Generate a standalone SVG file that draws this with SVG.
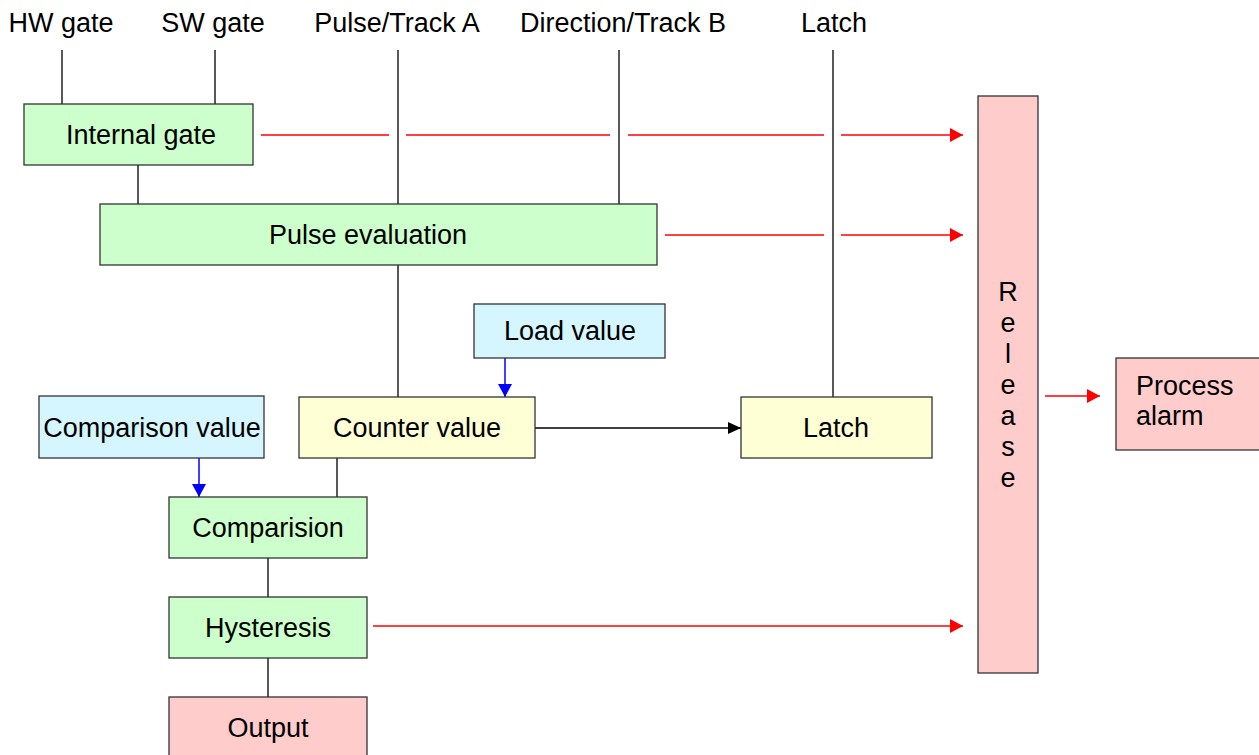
<svg xmlns="http://www.w3.org/2000/svg" width="1259" height="755" viewBox="0 0 1259 755">
<defs>
<style>
text{font-family:"Liberation Sans",Arial,sans-serif;font-size:27px;fill:#000}
.c{text-anchor:middle}
.box{stroke:#333;stroke-width:1.3}
.g{fill:#ccffcc}.b{fill:#d5f5ff}.y{fill:#ffffd5}.p{fill:#ffcccc}
.ln{stroke:#000;stroke-width:1.3;fill:none}
.red{stroke:#ff0000;stroke-width:1.5;fill:none}
.blue{stroke:#0000ff;stroke-width:1.5;fill:none}
</style>
<marker id="ar" markerUnits="userSpaceOnUse" markerWidth="14" markerHeight="16" refX="13" refY="7" orient="auto"><path d="M0,0 L13,7 L0,14 Z" fill="#ff0000"/></marker>
<marker id="ab" markerUnits="userSpaceOnUse" markerWidth="14" markerHeight="14" refX="13" refY="6" orient="auto"><path d="M0,0 L13,6 L0,12 Z" fill="#000"/></marker>
<marker id="au" markerUnits="userSpaceOnUse" markerWidth="14" markerHeight="16" refX="13" refY="7" orient="auto"><path d="M0,0 L13,7 L0,14 Z" fill="#0000ff"/></marker>
</defs>
<rect width="1259" height="755" fill="#fff"/>
<g id="labels">
<text class="c" x="61" y="32">HW gate</text>
<text class="c" x="213" y="32">SW gate</text>
<text class="c" x="397" y="32">Pulse/Track A</text>
<text class="c" x="623" y="32">Direction/Track B</text>
<text class="c" x="834" y="32">Latch</text>
</g>
<g id="connectors">
<path class="ln" d="M62,50V104M215,50V104M398,50V204M619,50V204M833,50V397M138,165V204M398,265V397M337,458V497M268,558V597M268,658V697"/>
<path class="red" d="M261,135H389M406,135H610M628,135H824"/>
<path class="red" d="M841,135H963" marker-end="url(#ar)"/>
<path class="red" d="M665,235H824"/>
<path class="red" d="M841,235H963" marker-end="url(#ar)"/>
<path class="red" d="M373,626H963" marker-end="url(#ar)"/>
<path class="red" d="M1045,396H1100" marker-end="url(#ar)"/>
<path class="ln" d="M535,428H741" marker-end="url(#ab)"/>
<path class="blue" d="M505,358V397" marker-end="url(#au)"/>
<path class="blue" d="M199,458V497" marker-end="url(#au)"/>
</g>
<g id="internal-gate"><rect class="box g" x="24" y="104" width="229" height="61"/><text class="c" x="141" y="144">Internal gate</text></g>
<g id="pulse-evaluation"><rect class="box g" x="100" y="204" width="557" height="61"/><text class="c" x="368" y="244">Pulse evaluation</text></g>
<g id="load-value"><rect class="box b" x="474" y="304" width="191" height="54"/><text class="c" x="570" y="340">Load value</text></g>
<g id="comparison-value"><rect class="box b" x="39" y="396" width="225" height="62"/><text class="c" x="152" y="437">Comparison value</text></g>
<g id="counter-value"><rect class="box y" x="299" y="397" width="236" height="61"/><text class="c" x="417" y="437">Counter value</text></g>
<g id="latch"><rect class="box y" x="741" y="397" width="191" height="61"/><text class="c" x="836" y="437">Latch</text></g>
<g id="comparision"><rect class="box g" x="169" y="497" width="198" height="61"/><text class="c" x="268" y="537">Comparision</text></g>
<g id="hysteresis"><rect class="box g" x="169" y="597" width="198" height="61"/><text class="c" x="268" y="637">Hysteresis</text></g>
<g id="output"><rect class="box p" x="169" y="697" width="198" height="70"/><text class="c" x="268" y="737">Output</text></g>
<g id="release"><rect class="box p" x="978" y="96" width="60" height="577"/>
<text class="c" x="1008" y="301">R</text><text class="c" x="1008" y="332">e</text><text class="c" x="1008" y="363">l</text><text class="c" x="1008" y="394">e</text><text class="c" x="1008" y="425">a</text><text class="c" x="1008" y="456">s</text><text class="c" x="1008" y="487">e</text></g>
<g id="process-alarm"><rect class="box p" x="1116" y="358" width="150" height="92"/><text x="1136" y="395">Process</text><text x="1136" y="425">alarm</text></g>
</svg>
